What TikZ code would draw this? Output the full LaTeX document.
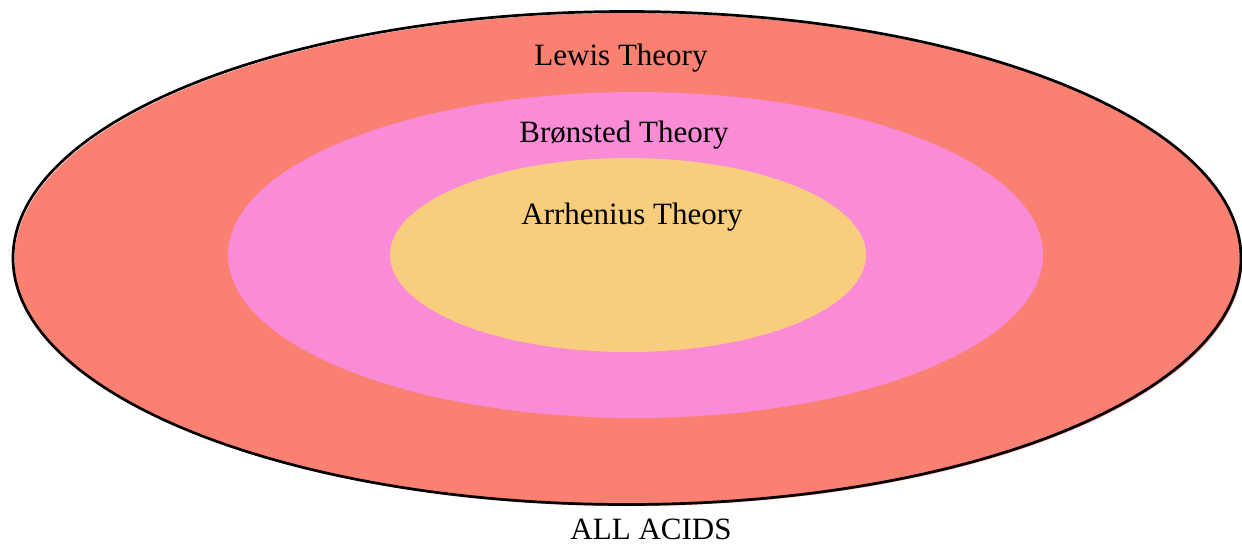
\documentclass[tikz,border=0pt]{standalone}
\usepackage{fontspec}
\setmainfont{Liberation Serif}
\definecolor{lewis}{RGB}{250,128,114}
\definecolor{bron}{RGB}{249,139,215}
\definecolor{arrh}{RGB}{248,206,126}
\begin{document}
\begin{tikzpicture}[x=1pt,y=-1pt,
  lbl/.style={anchor=base,inner sep=0pt,font=\fontsize{31}{36}\selectfont,text=black}]
\useasboundingbox (0,0) rectangle (1242,544);
\fill[lewis] (628.5,259.5) ellipse [x radius=614, y radius=246.5];
\draw[black,line width=2.7] (627,258) ellipse [x radius=614, y radius=246.5];
\fill[bron] (635.5,255) ellipse [x radius=407.5, y radius=163];
\fill[arrh] (628,255) ellipse [x radius=238, y radius=97];
\node[lbl] (lewis) at (621,65) {Lewis Theory};
\node[lbl] (bron) at (624,142) {Brønsted Theory};
\node[lbl] (arrh) at (632,224) {Arrhenius Theory};
\node[lbl] (all) at (651,539.5) {ALL ACIDS};
\end{tikzpicture}
\end{document}
